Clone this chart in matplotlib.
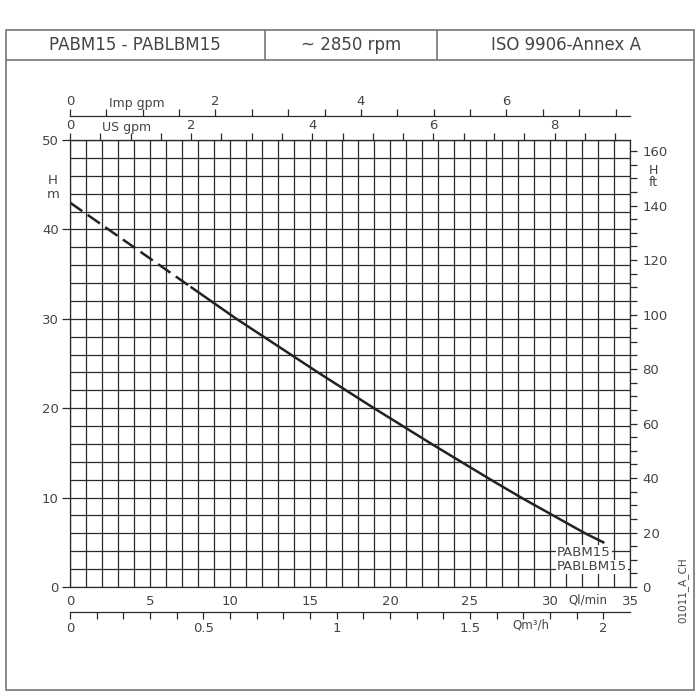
import numpy as np
import matplotlib.pyplot as plt
from matplotlib.patches import Rectangle
from matplotlib.lines import Line2D

# pump curve: flow in l/min, head in m
q_lmin = [0, 2.4, 4.8, 7.6, 10.4, 12.1, 13.8, 15.5, 17.25, 19.0, 20.8, 22.6,
          24.45, 26.3, 28.2, 30.2, 32.2, 33.33]
h_m = [43.0, 40.0, 37.0, 33.5, 30.0, 28.0, 26.0, 24.0, 22.0, 20.0, 18.0, 16.0,
       14.0, 12.0, 10.0, 8.0, 6.0, 5.0]
n_dashed = 4  # first points of the curve are dashed

lmin_ticks = [0, 5, 10, 15, 20, 25, 30, 35]
m_ticks = [0, 10, 20, 30, 40, 50]
ft_ticks = [0, 20, 40, 60, 80, 100, 120, 140, 160]
usgpm_ticks = [0, 2, 4, 6, 8]
impgpm_ticks = [0, 2, 4, 6]
m3h_ticks = [0, 0.5, 1, 1.5, 2]
m3h_labels = ['0', '0.5', '1', '1.5', '2']

header = ['PABM15 - PABLBM15', '~ 2850 rpm', 'ISO 9906-Annex A']
models = ['PABM15', 'PABLBM15']
drawing_code = '01011_A_CH'

US_GAL = 3.78541
IMP_GAL = 4.54609
FT = 0.3048

txt = '#444444'
grid_c = '#2b2b2b'
plt.rcParams['font.family'] = 'DejaVu Sans'
plt.rcParams['font.size'] = 9

fig = plt.figure(figsize=(7, 7), dpi=100)

# frame and header boxes
frame_c = '#808080'
fig.add_artist(Rectangle((6/700, 10/700), 688/700, 660/700, transform=fig.transFigure,
                         fill=False, ec=frame_c, lw=1.3))
fig.add_artist(Line2D([6/700, 694/700], [640/700, 640/700], transform=fig.transFigure,
                      color=frame_c, lw=1.3))
for xd in [265, 437]:
    fig.add_artist(Line2D([xd/700, xd/700], [640/700, 670/700], transform=fig.transFigure,
                          color=frame_c, lw=1.3))
for xc, t in zip([135, 351, 566], header):
    fig.text(xc/700, 655/700, t, ha='center', va='center', fontsize=12, color=txt)

ax = fig.add_axes([70/700, 113/700, 560/700, 447/700])
ax.plot(q_lmin[:n_dashed], h_m[:n_dashed], color='#222222', lw=1.8,
        ls=(0, (6, 2.6)), solid_capstyle='butt')
ax.plot(q_lmin[n_dashed - 1:], h_m[n_dashed - 1:], color='#222222', lw=1.8)

ax.set_xlim(0, 35)
ax.set_ylim(0, 50)
ax.set_xticks(lmin_ticks)
ax.set_xticks(np.arange(0, 36, 1), minor=True)
ax.set_yticks(m_ticks)
ax.set_yticks(np.arange(0, 51, 2), minor=True)
ax.grid(which='both', color=grid_c, lw=0.9)
ax.tick_params(axis='x', which='both', length=0, pad=6, labelcolor=txt, labelsize=9.5)
ax.tick_params(axis='y', which='major', length=6, width=0.9, color=grid_c, pad=2,
               labelcolor=txt, labelsize=9.5)
ax.tick_params(axis='y', which='minor', length=0)
for s in ax.spines.values():
    s.set_color(grid_c)
    s.set_linewidth(0.9)

# head in feet on the right
ax2 = ax.twinx()
ax2.set_ylim(0, 50 / FT)
ax2.set_yticks(ft_ticks)
ax2.set_yticks(np.arange(0, 165, 5), minor=True)
ax2.tick_params(which='both', length=5, width=0.9, color=grid_c, pad=4,
                labelcolor=txt, labelsize=9.5)
for s in ax2.spines.values():
    s.set_visible(False)

# US gpm on the top edge
sec_us = ax.secondary_xaxis('top', functions=(lambda q: q / US_GAL, lambda g: g * US_GAL))
sec_us.set_xticks(usgpm_ticks)
sec_us.set_xticks(np.arange(0, 9.1, 0.5), minor=True)
sec_us.tick_params(which='both', length=5, width=0.9, color=grid_c, pad=1,
                   labelcolor=txt, labelsize=9.5)
sec_us.spines['top'].set_color(grid_c)

# Imp gpm on a line above
sec_imp = ax.secondary_xaxis(1 + 24/447, functions=(lambda q: q / IMP_GAL, lambda g: g * IMP_GAL))
sec_imp.set_xticks(impgpm_ticks)
sec_imp.set_xticks(np.arange(0, 7.6, 0.5), minor=True)
sec_imp.tick_params(which='both', length=5, width=0.9, color=grid_c, pad=1,
                    labelcolor=txt, labelsize=9.5)
sec_imp.spines['top'].set_color(grid_c)
sec_imp.spines['top'].set_linewidth(0.9)

# m3/h on a line below
sec_m3 = ax.secondary_xaxis(-25/447, functions=(lambda q: q * 0.06, lambda v: v / 0.06))
sec_m3.set_xticks(m3h_ticks, m3h_labels)
sec_m3.set_xticks(np.arange(0, 2.01, 0.1), minor=True)
sec_m3.tick_params(which='both', length=5, width=0.9, color=grid_c, pad=2,
                   labelcolor=txt, labelsize=9.5)
sec_m3.spines['bottom'].set_color(grid_c)
sec_m3.spines['bottom'].set_linewidth(0.9)

# unit labels
fig.text(137/700, 597/700, 'Imp gpm', ha='center', va='center', fontsize=9, color=txt)
fig.text(127/700, 572/700, 'US gpm', ha='center', va='center', fontsize=9, color=txt)
fig.text(53/700, 519/700, 'H', ha='center', va='center', fontsize=9.5, color=txt)
fig.text(53/700, 506/700, 'm', ha='center', va='center', fontsize=9.5, color=txt)
fig.text(653/700, 529/700, 'H', ha='center', va='center', fontsize=9, color=txt)
fig.text(653/700, 517/700, 'ft', ha='center', va='center', fontsize=9, color=txt)
fig.text(588/700, 100/700, 'Ql/min', ha='center', va='center', fontsize=8.5, color=txt)
fig.text(531/700, 75/700, 'Qm³/h', ha='center', va='center', fontsize=8.5, color=txt)
fig.text(683/700, 110/700, drawing_code, ha='center', va='center', rotation=90,
         fontsize=7.5, color=txt)

# model names with white boxes over the grid
for yv, name in zip([3.86, 2.24], models):
    ax.text(30.45, yv, name, ha='left', va='center', fontsize=9.5, color=txt, zorder=5,
            bbox=dict(facecolor='white', edgecolor='none', pad=0.6))

fig.savefig('out.png', dpi=100, facecolor='white')
